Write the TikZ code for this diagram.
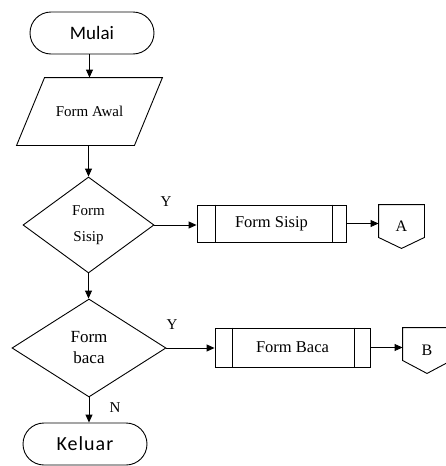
\documentclass[tikz,border=0pt]{standalone}
\usepackage{fontspec}
\setmainfont{Liberation Serif}
\newfontfamily\termfont{Carlito}
\usetikzlibrary{arrows.meta,shapes.geometric}
\begin{document}
\begin{tikzpicture}[x=1pt,y=-1pt,line width=0.9pt,
  term/.style={draw,rectangle,rounded corners=21pt,minimum width=124pt,minimum height=42pt,inner sep=0pt},
  io/.style={rectangle,minimum width=117pt,minimum height=67pt,inner sep=0pt,font=\fontsize{15}{17}\selectfont},
  decision/.style={draw,diamond,inner sep=0pt,align=center},
  proc/.style={draw,rectangle,inner sep=0pt,font=\fontsize{16.5}{18}\selectfont},
  offpage/.style={rectangle,inner sep=0pt,font=\fontsize{16}{18}\selectfont},
  lbl/.style={font=\fontsize{15}{17}\selectfont,inner sep=0pt},
  arr/.style={-{Triangle[length=8pt,width=7pt]}}]
\useasboundingbox (0,0) rectangle (445,466);
\node[term,font=\termfont\fontsize{19}{21}\selectfont] (mulai) at (92,33) {Mulai};
\node[io] (awal) at (89.5,111.5) {Form Awal};
\draw ([xshift=14pt]awal.north west) -- ([xshift=14pt]awal.north east) -- ([xshift=-14pt]awal.south east) -- ([xshift=-14pt]awal.south west) -- cycle;
\node[decision,minimum width=131pt,minimum height=96pt,font=\fontsize{15}{17}\selectfont] (d1) at (88.5,225) {Form\\[9pt]Sisip};
\node[decision,minimum width=154pt,minimum height=98pt,font=\fontsize{17}{20}\selectfont] (d2) at (89,348) {Form\\[1pt]baca};
\node[term,font=\termfont\fontsize{20}{22}\addfontfeature{LetterSpace=5}\selectfont] (keluar) at (85,444) {Keluar};
\node[proc,minimum width=149pt,minimum height=37pt] (p1) at (271.5,223.5) {Form Sisip};
\draw ([xshift=19pt]p1.north west) -- ([xshift=19pt]p1.south west);
\draw ([xshift=-14pt]p1.north east) -- ([xshift=-14pt]p1.south east);
\node[proc,minimum width=155pt,minimum height=39pt] (p2) at (292.5,347.5) {Form Baca};
\draw ([xshift=18pt]p2.north west) -- ([xshift=18pt]p2.south west);
\draw ([xshift=-16pt]p2.north east) -- ([xshift=-16pt]p2.south east);
\node[offpage,minimum width=45pt,minimum height=43pt] (ca) at (401.5,226.5) {A};
\draw (ca.north west) -- (ca.north east) -- ([yshift=11pt]ca.south east) -- (ca.south) -- ([yshift=11pt]ca.south west) -- cycle;
\node[offpage,minimum width=48pt,minimum height=45pt] (cb) at (427,350.5) {B};
\draw (cb.north west) -- (cb.north east) -- ([yshift=13pt]cb.south east) -- (cb.south) -- ([yshift=13pt]cb.south west) -- cycle;
\draw[arr] (awal.north |- mulai.south) -- (awal.north);
\draw[arr] (d1.north |- awal.south) -- (d1.north);
\draw[arr] (d1.east) -- (p1.west |- d1.east);
\draw[arr] (p1.east) -- (p1.east -| ca.west);
\draw[arr] (d1.south) -- (d2.north -| d1.south);
\draw[arr] (d2.east) -- (p2.west |- d2.east);
\draw[arr] (p2.east) -- (p2.east -| cb.west);
\draw[arr] (d2.south) -- (d2.south |- keluar.north);
\node[lbl] (y1) at (166,202) {Y};
\node[lbl] (y2) at (172,325) {Y};
\node[lbl] (n1) at (115,408) {N};
\end{tikzpicture}
\end{document}
